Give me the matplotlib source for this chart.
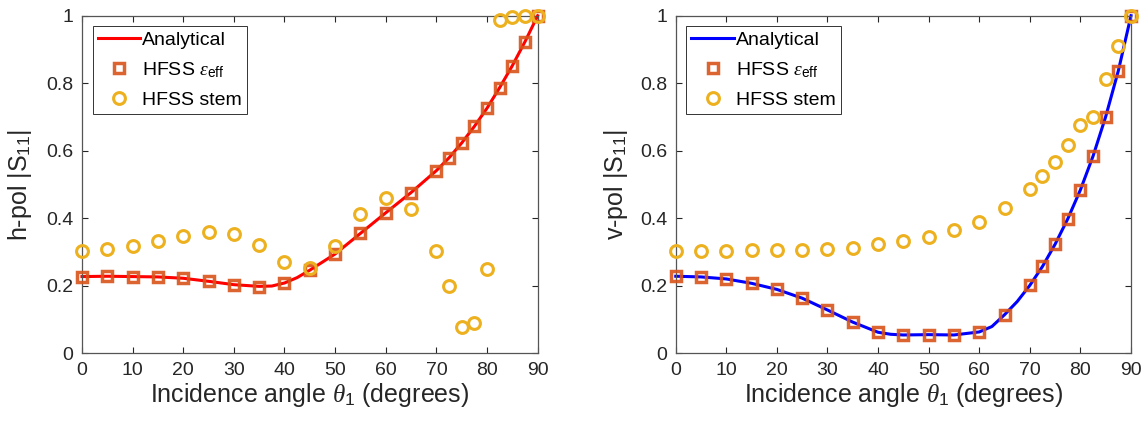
import matplotlib
matplotlib.use("Agg")
import matplotlib.pyplot as plt

plt.rcParams['font.family'] = ['Liberation Sans', 'DejaVu Sans']
plt.rcParams['mathtext.fontset'] = 'custom'
plt.rcParams['mathtext.rm'] = 'Liberation Sans'
plt.rcParams['mathtext.it'] = 'Liberation Serif:italic'
plt.rcParams['mathtext.bf'] = 'Liberation Sans:bold'

# incidence angles (degrees) of the HFSS runs
angles = [0, 5, 10, 15, 20, 25, 30, 35, 40, 45, 50, 55, 60, 65, 70, 72.5, 75, 77.5, 80, 82.5, 85, 87.5, 90]

# h-pol |S11|
h_eff = [0.227, 0.228, 0.227, 0.226, 0.223, 0.214, 0.203, 0.197, 0.209, 0.246, 0.294, 0.355,
         0.416, 0.476, 0.541, 0.579, 0.623, 0.672, 0.726, 0.787, 0.852, 0.923, 1.0]
h_stem = [0.304, 0.308, 0.318, 0.332, 0.347, 0.359, 0.353, 0.321, 0.270, 0.251, 0.319, 0.413,
          0.459, 0.428, 0.302, 0.200, 0.079, 0.090, 0.249, 0.987, 0.995, 0.999, 1.0]

# v-pol |S11|
v_eff = [0.228, 0.226, 0.220, 0.207, 0.189, 0.163, 0.128, 0.092, 0.062, 0.054, 0.055, 0.054,
         0.063, 0.114, 0.201, 0.257, 0.323, 0.398, 0.484, 0.584, 0.701, 0.837, 1.0]
v_stem = [0.304, 0.304, 0.304, 0.305, 0.305, 0.306, 0.309, 0.313, 0.323, 0.332, 0.345, 0.364,
          0.390, 0.429, 0.487, 0.525, 0.567, 0.617, 0.676, 0.699, 0.811, 0.911, 1.0]

# analytical curves
h_ana_x = [0, 5, 10, 15, 20, 25, 30, 35, 37.5, 40, 42.5, 45, 47.5, 50, 55, 60, 65, 70, 72.5, 75, 77.5, 80, 82.5, 85, 87.5, 90]
h_ana = [0.227, 0.228, 0.227, 0.226, 0.222, 0.213, 0.203, 0.198, 0.199, 0.208, 0.224, 0.246, 0.270,
         0.294, 0.355, 0.416, 0.476, 0.541, 0.579, 0.623, 0.672, 0.726, 0.787, 0.852, 0.923, 1.0]
v_ana_x = [0, 5, 10, 15, 20, 25, 30, 35, 40, 42.5, 45, 50, 55, 60, 62.5, 65, 67.5, 70, 72.5, 75, 77.5, 80, 82.5, 85, 87.5, 90]
v_ana = [0.228, 0.226, 0.220, 0.207, 0.189, 0.163, 0.128, 0.092, 0.062, 0.056, 0.054, 0.055, 0.054,
         0.063, 0.079, 0.114, 0.153, 0.201, 0.257, 0.323, 0.398, 0.484, 0.584, 0.701, 0.837, 1.0]

xticks = [0, 10, 20, 30, 40, 50, 60, 70, 80, 90]
yticks = [0, 0.2, 0.4, 0.6, 0.8, 1]
ytick_labels = ['0', '0.2', '0.4', '0.6', '0.8', '1']

sq_color = '#D95319'
circ_color = '#EDB120'
axis_gray = '#262626'

fig = plt.figure(figsize=(11.43, 4.26), dpi=100)
ax1 = fig.add_axes([0.0717, 0.1709, 0.3987, 0.7923])
ax2 = fig.add_axes([0.5912, 0.1709, 0.3983, 0.7923])

panels = [(ax1, h_ana_x, h_ana, h_eff, h_stem, '#FF0000', 'h-pol |S$_{11}$|', 9),
          (ax2, v_ana_x, v_ana, v_eff, v_stem, '#0000FF', 'v-pol |S$_{11}$|', 7)]

for ax, ax_x, ana, eff, stem, lc, ylab, lpad in panels:
    ax.plot(ax_x, ana, color=lc, lw=2.2, label='Analytical', zorder=2, clip_on=False)
    ax.plot(angles, eff, ls='none', marker='s', ms=6.5, mfc='none', mec=sq_color, mew=2.5,
            alpha=0.9, label=r'HFSS $\epsilon_{\rm eff}$', zorder=3, clip_on=False)
    ax.plot(angles, stem, ls='none', marker='o', ms=8.5, mfc='none', mec=circ_color, mew=2.2,
            label='HFSS stem', zorder=4, clip_on=False)
    ax.set_xlim(0, 90)
    ax.set_ylim(0, 1)
    ax.set_xticks(xticks)
    ax.set_yticks(yticks)
    ax.set_yticklabels(ytick_labels)
    ax.tick_params(direction='in', top=True, right=True, length=4, width=0.8,
                   labelsize=14, colors=axis_gray, pad=6)
    for s in ax.spines.values():
        s.set_color('#555555')
        s.set_linewidth(0.9)
    ax.set_xlabel(r'Incidence angle $\theta_1$ (degrees)', fontsize=18, color=axis_gray, labelpad=2)
    ax.set_ylabel(ylab, fontsize=18, color=axis_gray, labelpad=lpad)
    leg = ax.legend(loc='upper left', fontsize=14, fancybox=False, framealpha=1,
                    edgecolor='#333333', handlelength=2.2, handletextpad=0.1,
                    labelspacing=0.58, borderpad=0.25, borderaxespad=0.55)
    leg.get_frame().set_linewidth(0.7)
    leg.set_zorder(5)

fig.savefig('out.png', dpi=100)
